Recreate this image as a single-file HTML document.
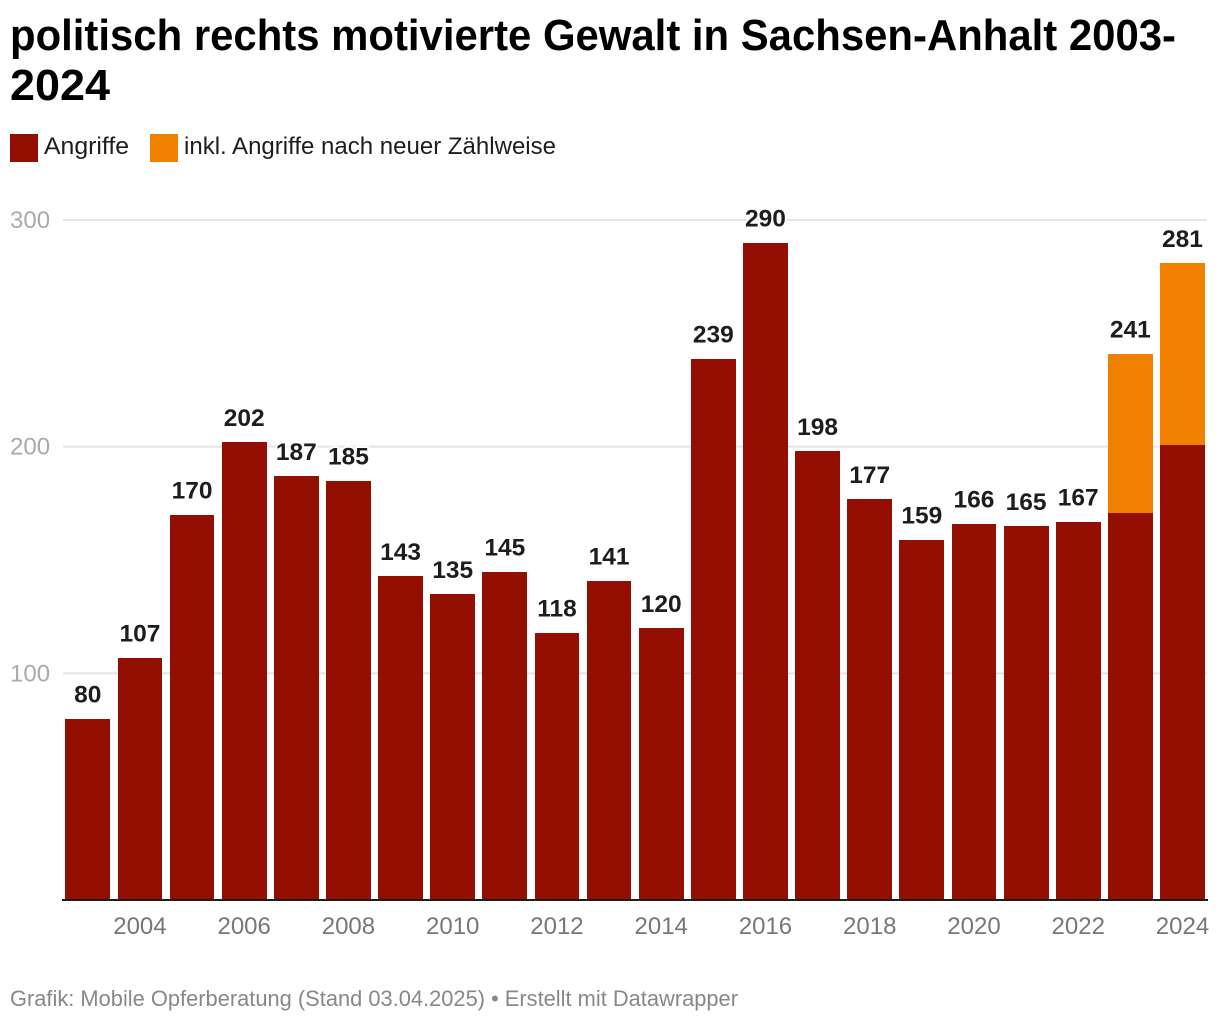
<!DOCTYPE html>
<html lang="de">
<head>
<meta charset="utf-8">
<title>politisch rechts motivierte Gewalt in Sachsen-Anhalt 2003-2024</title>
<style>
html,body{margin:0;padding:0;background:#fff;width:1220px;height:1024px;overflow:hidden}
svg{display:block;font-family:"Liberation Sans",sans-serif}
</style>
</head>
<body>
<svg id="chart" width="1220" height="1024" viewBox="0 0 1220 1024" xmlns="http://www.w3.org/2000/svg">
  <rect x="0" y="0" width="1220" height="1024" fill="#fff"/>
  <g font-weight="700" font-size="44" fill="#000">
    <text x="10" y="50" textLength="1166" lengthAdjust="spacingAndGlyphs">politisch rechts motivierte Gewalt in Sachsen-Anhalt 2003-</text>
    <text x="10" y="100" textLength="100" lengthAdjust="spacingAndGlyphs">2024</text>
  </g>
  <g font-size="24" fill="#1d1d1d">
    <rect x="10" y="134" width="28" height="28" fill="#940e02"/>
    <text x="44" y="154" textLength="85" lengthAdjust="spacingAndGlyphs">Angriffe</text>
    <rect x="150" y="134" width="28" height="28" fill="#f28000"/>
    <text x="184" y="154" textLength="372" lengthAdjust="spacingAndGlyphs">inkl. Angriffe nach neuer Zählweise</text>
  </g>
  <g id="grid"></g>
  <g id="bars"></g>
  <g id="values"></g>
  <line x1="62" x2="1208" y1="900" y2="900" stroke="#1d1d1d" stroke-width="2"/>
  <g id="xticks"></g>
  <text x="10" y="1006" font-size="22" fill="#888" textLength="728" lengthAdjust="spacingAndGlyphs">Grafik: Mobile Opferberatung (Stand 03.04.2025) • Erstellt mit Datawrapper</text>
</svg>
<script>
const years = [2003,2004,2005,2006,2007,2008,2009,2010,2011,2012,2013,2014,2015,2016,2017,2018,2019,2020,2021,2022,2023,2024];
const attacks = [80,107,170,202,187,185,143,135,145,118,141,120,239,290,198,177,159,166,165,167,171,201];
const newCountExtra = [0,0,0,0,0,0,0,0,0,0,0,0,0,0,0,0,0,0,0,0,70,80];
const yTicks = [100,200,300];
const xTickYears = [2004,2006,2008,2010,2012,2014,2016,2018,2020,2022,2024];

const NS = 'http://www.w3.org/2000/svg';
const plot = { baseY: 900, topY: 220, maxV: 300, firstX: 65.4, lastX: 1160.1, barW: 44.8 };
function yScale(v) {
  return plot.baseY - (v / plot.maxV) * (plot.baseY - plot.topY);
}
function xScale(year) {
  const step = (plot.lastX - plot.firstX) / (years[years.length - 1] - years[0]);
  return plot.firstX + (year - years[0]) * step;
}
function make(tag, attrs, parent, text) {
  const el = document.createElementNS(NS, tag);
  for (const k in attrs) el.setAttribute(k, attrs[k]);
  if (text !== undefined) el.textContent = text;
  parent.appendChild(el);
  return el;
}
const gridG = document.getElementById('grid');
const barsG = document.getElementById('bars');
const valuesG = document.getElementById('values');
const xticksG = document.getElementById('xticks');

yTicks.forEach(function (t) {
  const y = yScale(t);
  const line = make('line', { x1: 63, x2: 1207, y1: y, y2: y, stroke: '#e5e5e5', 'stroke-width': 2 }, gridG);
  
  
  const label = make('text', { x: 10, y: y + 8, 'font-size': 24, fill: '#aaa' }, gridG, String(t));
  
  
});

years.forEach(function (year, i) {
  const x0 = Math.round(xScale(year));
  const x1 = Math.round(xScale(year) + plot.barW);
  const total = attacks[i] + newCountExtra[i];
  const yBase = Math.round(yScale(attacks[i]) + 0.25);
  const yTotal = Math.round(yScale(total) + 0.25);
  if (newCountExtra[i] > 0) {
    const top = make('rect', { x: x0, y: yTotal, width: x1 - x0, height: yBase - yTotal, fill: '#f28000' }, barsG);
    
    
  }
  const bar = make('rect', { x: x0, y: yBase, width: x1 - x0, height: plot.baseY - yBase, fill: '#940e02' }, barsG);
  
  
  const val = make('text', { x: xScale(year) + plot.barW / 2, y: yScale(total) - 16, 'font-size': 24.5, 'font-weight': 700, fill: '#1d1d1d', 'text-anchor': 'middle', stroke: '#fff', 'stroke-width': 4, 'stroke-linejoin': 'round', 'paint-order': 'stroke' }, valuesG, String(total));
  
  
});

xTickYears.forEach(function (year) {
  const tick = make('text', { x: xScale(year) + plot.barW / 2, y: 934, 'font-size': 24, fill: '#777', 'text-anchor': 'middle' }, xticksG, String(year));
  
  
});
</script>
</body>
</html>
